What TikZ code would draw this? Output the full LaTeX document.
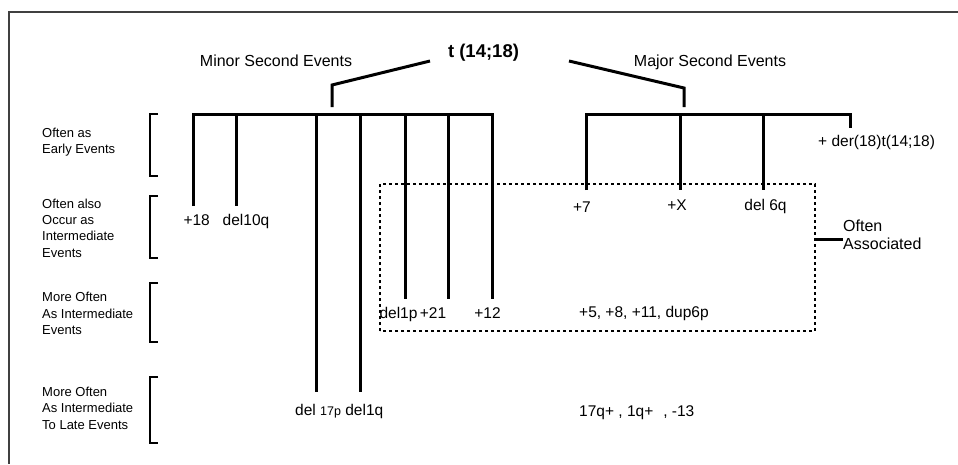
\documentclass[tikz,border=0pt]{standalone}
\usepackage{fontspec}
\setmainfont{Liberation Sans}
\begin{document}
\begin{tikzpicture}[x=1pt,y=-1pt,
  bar/.style={line width=3pt},
  brk/.style={line width=2.6pt},
  framel/.style={line width=1.3pt,black!75},
  dotbox/.style={line width=2.6pt,dash pattern=on 3pt off 3pt},
  hdr/.style={font=\fontsize{16}{19}\selectfont,inner sep=0pt,anchor=base},
  ttl/.style={font=\fontsize{18.5}{22}\selectfont\bfseries,inner sep=0pt,anchor=base},
  lbl/.style={font=\fontsize{15.5}{18}\selectfont,inner sep=0pt,anchor=base},
  lblw/.style={lbl,anchor=base west},
  rowl/.style={font=\fontsize{13}{16.3}\selectfont,inner sep=0pt,align=left,anchor=base west}]
\useasboundingbox (0,0) rectangle (958,464);
% frame
\draw[framel] (958,12) -- (9,12) -- (9,464);
% headers
\node[hdr] (minor) at (276,66.7) {Minor Second Events};
\node[ttl] (t) at (483.5,57.3) {t (14;18)};
\node[hdr] (major) at (710,66.7) {Major Second Events};
% stems
\coordinate (sl) at (430,61);
\coordinate (sr) at (569,61);
\draw[bar] (sl) -- (332,85) -- (332,107);
\draw[bar] (sr) -- (684,88) -- (684,107);
% minor tree
\draw[bar] (193,206) |- (492,114) -- (492,299);
\draw[bar] (236,114) -- (236,206);
\draw[bar] (316,114) -- (316,392);
\draw[bar] (360,114) -- (360,392);
\draw[bar] (405,114) -- (405,299);
\draw[bar] (448,114) -- (448,299);
% major tree
\draw[bar] (586,190) |- (850,114) -- (850,128);
\draw[bar] (680,114) -- (680,190);
\draw[bar] (763,114) -- (763,190);
% row brackets
\draw[brk] (158,114) -- (150,114) -- (150,176) -- (158,176);
\draw[brk] (158,196) -- (150,196) -- (150,258) -- (158,258);
\draw[brk] (158,283) -- (150,283) -- (150,342) -- (158,342);
\draw[brk] (158,377) -- (150,377) -- (150,443) -- (158,443);
% row labels (anchor = baseline of last line)
\node[rowl] (r1) at (42,153.8) {Often as\\Early Events};
\node[rowl] (r2) at (42,257.2) {Often also\\Occur as\\Intermediate\\Events};
\node[rowl] (r3) at (42,334.3) {More Often\\As Intermediate\\Events};
\node[rowl] (r4) at (42,429.1) {More Often\\As Intermediate\\To Late Events};
% event labels
\node[lbl] (e18) at (196.7,225.5) {+18};
\node[lbl] (e10q) at (246,225.5) {del10q};
\node[lbl] (e1p) at (398.5,318) {del1p};
\node[lbl] (e21) at (433,318) {+21};
\node[lbl] (e12) at (487.5,318) {+12};
\node[lblw] (e17) at (295,415.7) {del {\fontsize{12.5}{15}\selectfont 17p} del1q};
\node[lbl] (e7) at (582,212.5) {+7};
\node[lbl] (eX) at (677,210.5) {+X};
\node[lbl] (e6q) at (765.5,210.5) {del 6q};
\node[lblw] (eder) at (818,146) {+ der(18)t(14;18)};
\node[lblw] (e5) at (579,317.5) {+5, +8, +11, dup6p};
\node[lblw] (e17q) at (579,416) {17q+ , 1q+\hspace{10pt}, -13};
% associated box
\draw[dotbox] (380,331) -- (380,184) -- (815,184) -- (815,331) -- cycle;
\node[font=\fontsize{16}{18}\selectfont,inner sep=0pt,align=left,anchor=base west] (assoc) at (843,249.7) {Often\\Associated};
\draw[bar] (815,239) -- (assoc.west |- 0,239);
\end{tikzpicture}
\end{document}
